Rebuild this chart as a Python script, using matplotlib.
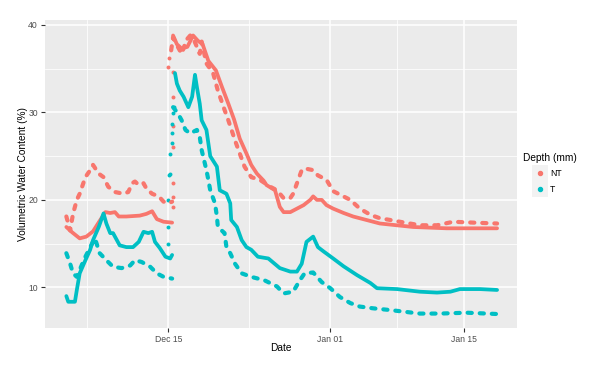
import numpy as np
import pandas as pd
import matplotlib
matplotlib.use("Agg")
import matplotlib.pyplot as plt
import matplotlib.dates as mdates
from matplotlib.lines import Line2D
from matplotlib.patches import Rectangle

plt.rcParams['font.family'] = ['Liberation Sans', 'DejaVu Sans']

# days counted from Dec 15
base = pd.Timestamp('2019-12-15')

# NT, sensor a (solid looking)
nt_a_pre_days = [-10.7, -10.1, -9.3, -8.6, -7.9, -7.2, -6.6, -6.1, -5.6, -5.2, -4.4, -3.0, -2.3, -1.7, -1.2, -0.5, 0.4]
nt_a_pre_vwc = [16.9, 16.3, 15.6, 15.8, 16.4, 17.6, 18.6, 18.5, 18.6, 18.1, 18.1, 18.2, 18.4, 18.7, 17.8, 17.5, 17.4]
nt_a_post_days = [0.5, 0.9, 1.4, 2.0, 2.6, 3.1, 3.6, 4.2, 5.0, 5.6, 6.3, 6.9, 7.5, 8.2, 8.7, 9.3, 10.0, 10.3, 11.2, 11.7,
                  12.1, 12.8, 13.5, 14.2, 14.9, 15.2, 15.6, 16.1, 16.6, 17.3, 18.4, 19.4, 20.8, 22.2, 25.7, 29.2, 31.3, 34.5]
nt_a_post_vwc = [38.8, 37.8, 37.3, 37.5, 38.8, 38.2, 37.8, 35.9, 34.8, 33.0, 31.0, 29.2, 27.0, 25.3, 24.0, 23.0, 22.2, 21.7, 21.1, 19.2,
                 18.6, 18.6, 19.0, 19.4, 20.0, 20.4, 20.0, 20.0, 19.4, 19.0, 18.5, 18.1, 17.7, 17.3, 16.9, 16.75, 16.75, 16.75]

# NT, sensor b (dashed looking)
nt_b_pre_days = [-10.7, -10.3, -10.0, -9.6, -9.3, -8.7, -8.2, -7.9, -7.3, -6.8, -6.3, -5.6, -4.7, -4.2, -3.8, -3.5,
                 -3.1, -2.6, -2.3, -1.7, -1.0, -0.5, 0.0, 0.4]
nt_b_pre_vwc = [18.1, 16.5, 18.4, 20.0, 20.7, 22.6, 23.4, 24.0, 23.0, 22.6, 21.5, 20.9, 20.7, 20.9, 21.9, 22.1,
                21.7, 21.9, 21.3, 20.7, 20.4, 19.8, 19.6, 19.8]
nt_b_post_days = [0.3, 0.5, 1.0, 1.4, 1.9, 2.3, 2.6, 3.0, 3.3, 3.5, 4.0, 4.7, 5.2, 5.9, 6.3, 7.0, 7.5, 8.0, 8.7, 9.6,
                  10.7, 11.4, 12.1, 12.8, 13.1, 13.5, 14.0, 14.3, 15.2, 15.7, 16.6, 17.3, 18.2, 19.1, 20.1, 21.2, 22.2,
                  23.3, 24.3, 26.4, 28.2, 29.9, 32.0, 34.5]
nt_b_post_vwc = [37.1, 38.6, 37.5, 36.7, 38.3, 38.8, 38.5, 37.5, 36.7, 38.1, 35.6, 34.5, 32.5, 30.3, 29.1, 26.8, 25.3, 23.8, 22.6, 22.3,
                 21.5, 21.1, 20.2, 20.2, 20.7, 21.9, 23.4, 23.6, 23.4, 22.8, 22.3, 21.0, 20.5, 20.0, 19.0, 18.3, 17.9,
                 17.7, 17.5, 17.1, 17.1, 17.5, 17.4, 17.3]

# T, sensor a (solid looking)
t_a_pre_days = [-10.7, -10.5, -9.8, -9.6, -9.3, -8.7, -8.2, -7.9, -7.3, -6.8, -6.5, -6.1, -5.8, -5.4, -5.1,
                -4.4, -3.7, -3.1, -2.6, -2.1, -1.7, -1.4, -0.9, -0.3, 0.2, 0.4]
t_a_pre_vwc = [9.0, 8.35, 8.35, 9.7, 11.6, 13.1, 14.3, 15.4, 16.9, 18.45, 17.3, 16.2, 16.2, 15.4, 14.8,
               14.6, 14.6, 15.2, 16.35, 16.2, 16.35, 15.2, 14.5, 13.5, 13.3, 13.7]
t_a_post_days = [0.7, 0.9, 1.2, 1.6, 2.1, 2.5, 2.8, 3.0, 3.3, 3.5, 4.0, 4.4, 5.1, 5.4, 6.1, 6.5, 6.6, 7.2, 7.7, 8.2,
                 8.7, 9.4, 10.5, 11.7, 12.8, 13.5, 14.0, 14.5, 15.2, 15.7, 16.3, 17.3, 18.4, 19.8, 21.2, 21.9, 24.0,
                 26.4, 28.2, 29.6, 30.6, 32.7, 34.5]
t_a_post_vwc = [34.5, 33.3, 32.5, 31.8, 30.6, 31.8, 34.3, 32.9, 31.0, 29.1, 28.0, 25.0, 23.8, 21.1, 20.7, 19.6, 17.7, 16.9, 15.4, 14.6,
                14.3, 13.5, 13.3, 12.2, 11.8, 11.8, 12.7, 15.2, 15.8, 14.6, 14.1, 13.3, 12.4, 11.4, 10.5, 9.9, 9.8,
                9.5, 9.4, 9.5, 9.8, 9.8, 9.7]

# T, sensor b (dashed looking)
t_b_pre_days = [-10.7, -10.3, -10.0, -9.6, -9.3, -8.7, -8.0, -7.7, -7.2, -6.5, -5.8, -4.9, -4.0, -3.5, -2.8, -1.9, -1.2, -0.5, 0.4]
t_b_pre_vwc = [13.9, 12.7, 11.6, 11.2, 12.0, 13.5, 15.0, 15.6, 13.9, 13.1, 12.35, 12.2, 12.5, 13.1, 12.9, 12.35, 11.6, 11.2, 11.0]
t_b_post_days = [0.5, 1.0, 1.4, 1.8, 2.3, 3.0, 3.3, 3.5, 4.0, 4.2, 4.4, 4.9, 5.1, 5.2, 5.9, 6.1, 6.5, 7.0, 7.7, 8.7,
                 10.1, 11.4, 12.1, 13.1, 13.8, 14.3, 15.2, 16.1, 17.0, 18.0, 19.1, 20.1, 21.5, 23.3, 26.4, 28.5, 31.3, 34.5]
t_b_post_vwc = [30.6, 29.9, 29.1, 28.0, 27.6, 28.0, 27.2, 25.7, 23.4, 22.3, 21.1, 19.6, 18.1, 16.9, 16.2, 14.6, 13.9, 12.7, 11.6, 11.2,
                10.8, 10.1, 9.3, 9.5, 10.8, 11.6, 11.7, 10.6, 9.9, 8.9, 8.2, 7.8, 7.6, 7.4, 7.0, 7.0, 7.1, 6.95]

# sparse readings during the jump on Dec 15
nt_jump_days = [0.0, 0.1, 0.5, 0.5, 0.5, 0.5, 0.5, 0.5, 0.5]
nt_jump_vwc = [35.2, 36.2, 19.2, 20.3, 21.9, 26.1, 28.4, 31.8, 34.6]
t_jump_days = [0.0, 0.0, 0.0, 0.1, 0.2, 0.2, 0.4, 0.4, 0.4, 0.5, 0.6]
t_jump_vwc = [15.0, 16.9, 20.0, 22.8, 23.0, 25.3, 26.5, 27.6, 28.7, 29.9, 30.6]

depths = ['NT', 'T']
colors = {'NT': '#F8766D', 'T': '#00BFC4'}


def to_dates(days):
    return base + pd.to_timedelta(days, unit='D')


W, H = 602, 372
fig = plt.figure(figsize=(W / 100, H / 100), dpi=100)
ax = fig.add_axes([45 / W, 44 / H, 471.7 / W, 308 / H])
ax.set_facecolor('#EBEBEB')
for s in ax.spines.values():
    s.set_visible(False)

solid = dict(lw=2.7, solid_capstyle='round', solid_joinstyle='round')
dashed = dict(lw=3.0, ls=(0, (1.0, 1.9)), dash_capstyle='round', dash_joinstyle='round')

for d, v in [(nt_a_pre_days, nt_a_pre_vwc), (nt_a_post_days, nt_a_post_vwc)]:
    ax.plot(to_dates(d), v, color=colors['NT'], **solid)
for d, v in [(nt_b_pre_days, nt_b_pre_vwc), (nt_b_post_days, nt_b_post_vwc)]:
    ax.plot(to_dates(d), v, color=colors['NT'], **dashed)
for d, v in [(t_a_pre_days, t_a_pre_vwc), (t_a_post_days, t_a_post_vwc)]:
    ax.plot(to_dates(d), v, color=colors['T'], **solid)
for d, v in [(t_b_pre_days, t_b_pre_vwc), (t_b_post_days, t_b_post_vwc)]:
    ax.plot(to_dates(d), v, color=colors['T'], **dashed)
ax.scatter(to_dates(nt_jump_days), nt_jump_vwc, s=8, color=colors['NT'], lw=0)
ax.scatter(to_dates(t_jump_days), t_jump_vwc, s=8, color=colors['T'], lw=0)

ax.set_xlim(to_dates([-12.94])[0], to_dates([36.56])[0])
ax.set_ylim(5.35, 40.57)
ax.set_yticks([10, 20, 30, 40])
ax.set_yticks([15, 25, 35], minor=True)
ax.set_xticks(to_dates([0, 17, 31]))
ax.set_xticks(to_dates([-8.5, 8.5, 24]), minor=True)
ax.xaxis.set_major_formatter(mdates.DateFormatter('%b %d'))
ax.grid(which='major', color='white', lw=1.1)
ax.grid(which='minor', color='white', lw=0.55)
ax.set_axisbelow(True)
ax.tick_params(which='minor', length=0)
ax.tick_params(which='major', length=3, width=0.8, color='#333333',
               labelcolor='#4D4D4D', labelsize=6.2, pad=2)

# axis titles
fig.text(281 / W, 1 - 348.3 / H, 'Date', fontsize=7.3, ha='center', va='center')
fig.text(23 / W, 1 - 174 / H, 'Volumetric Water Content (%)', fontsize=7.3,
         rotation=90, ha='center', va='center')

# legend, drawn by hand to get the grey key boxes
fig.text(522.7 / W, 1 - 158.3 / H, 'Depth (mm)', fontsize=7.3, va='center', ha='left')
fig.add_artist(Rectangle((531.7 / W, 1 - 197.3 / H), 16.5 / W, 32 / H,
                         transform=fig.transFigure, color='#F2F2F2', lw=0))
for i, dep in enumerate(depths):
    yk = 1 - (173.3 + 16 * i) / H
    fig.add_artist(Line2D([540 / W], [yk], marker='o', ms=2.9, color=colors[dep],
                          lw=0, transform=fig.transFigure))
    fig.text(550 / W, yk, dep, fontsize=6.2, va='center', ha='left')

fig.savefig('out.png', dpi=100)
